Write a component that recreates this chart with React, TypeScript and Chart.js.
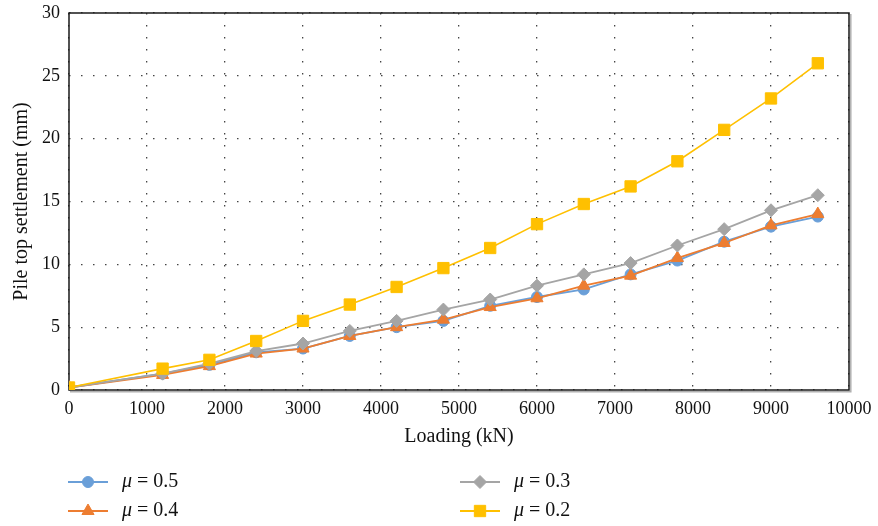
import React, { useEffect, useRef } from "react";
import { Chart, registerables } from "chart.js";

Chart.register(...registerables);

const loading = [0, 1200, 1800, 2400, 3000, 3600, 4200, 4800, 5400, 6000, 6600, 7200, 7800, 8400, 9000, 9600];
const mu05 = [0.2, 1.3, 2.0, 3.0, 3.3, 4.3, 5.0, 5.5, 6.7, 7.4, 8.0, 9.2, 10.3, 11.8, 13.0, 13.8];
const mu04 = [0.2, 1.2, 1.9, 2.9, 3.3, 4.3, 5.0, 5.6, 6.6, 7.3, 8.3, 9.1, 10.5, 11.7, 13.1, 14.0];
const mu03 = [0.2, 1.3, 2.1, 3.1, 3.7, 4.7, 5.5, 6.4, 7.2, 8.3, 9.2, 10.1, 11.5, 12.8, 14.3, 15.5];
const mu02 = [0.2, 1.7, 2.4, 3.9, 5.5, 6.8, 8.2, 9.7, 11.3, 13.2, 14.8, 16.2, 18.2, 20.7, 23.2, 26.0];
const seriesLabels = ["0.5", "0.4", "0.3", "0.2"];

const FONT = "'Liberation Serif', 'DejaVu Serif', serif";

const toPts = (ys: number[]) => loading.map((x, i) => ({ x, y: ys[i] }));

const framePlugin = {
  id: "frame",
  beforeDatasetsDraw(chart: any) {
    const { ctx, chartArea: a } = chart;
    ctx.save();
    ctx.strokeStyle = "#b0b0b0";
    ctx.lineWidth = 1.5;
    ctx.beginPath();
    ctx.moveTo(a.right + 1.8, a.top + 1);
    ctx.lineTo(a.right + 1.8, a.bottom + 1.8);
    ctx.lineTo(a.left + 1, a.bottom + 1.8);
    ctx.stroke();
    ctx.strokeStyle = "#1a1a1a";
    ctx.lineWidth = 1.5;
    ctx.strokeRect(a.left, a.top, a.right - a.left, a.bottom - a.top);
    ctx.restore();
  },
};

function drawMarker(ctx: CanvasRenderingContext2D, style: string, r: number, x: number, y: number) {
  ctx.beginPath();
  if (style === "circle") {
    ctx.arc(x, y, r, 0, Math.PI * 2);
  } else if (style === "rect") {
    const s = Math.SQRT1_2 * r;
    ctx.rect(x - s, y - s, 2 * s, 2 * s);
  } else if (style === "rectRot") {
    ctx.moveTo(x - r, y);
    ctx.lineTo(x, y - r);
    ctx.lineTo(x + r, y);
    ctx.lineTo(x, y + r);
    ctx.closePath();
  } else if (style === "triangle") {
    const edge = (3 * r) / Math.sqrt(3);
    const h = (edge * Math.sqrt(3)) / 2;
    ctx.moveTo(x - edge / 2, y + h / 3);
    ctx.lineTo(x + edge / 2, y + h / 3);
    ctx.lineTo(x, y - (2 * h) / 3);
    ctx.closePath();
  }
  ctx.fill();
  ctx.stroke();
}

const legendPlugin = {
  id: "customLegend",
  afterDraw(chart: any) {
    const { ctx } = chart;
    const pos = [
      { x: 68, y: 482 },
      { x: 68, y: 511 },
      { x: 460, y: 482 },
      { x: 460, y: 511 },
    ];
    chart.data.datasets.forEach((ds: any, i: number) => {
      const p = pos[i];
      ctx.save();
      ctx.strokeStyle = ds.borderColor;
      ctx.lineWidth = 2;
      ctx.beginPath();
      ctx.moveTo(p.x, p.y);
      ctx.lineTo(p.x + 40, p.y);
      ctx.stroke();
      ctx.fillStyle = ds.pointBackgroundColor;
      ctx.strokeStyle = ds.pointBackgroundColor;
      ctx.lineWidth = 1;
      drawMarker(ctx, ds.pointStyle, ds.pointRadius, p.x + 20, p.y);
      ctx.restore();
      ctx.save();
      ctx.fillStyle = "#111";
      ctx.textBaseline = "middle";
      ctx.font = `italic 20px ${FONT}`;
      const tx = p.x + 54;
      ctx.fillText("\u03bc", tx, p.y);
      const w = ctx.measureText("\u03bc").width;
      ctx.font = `20px ${FONT}`;
      ctx.fillText(` = ${seriesLabels[i]}`, tx + w, p.y);
      ctx.restore();
    });
  },
};

export default function App() {
  const ref = useRef<HTMLCanvasElement | null>(null);
  useEffect(() => {
    document.body.style.margin = "0";
    if (!ref.current) return;
    const mk = (label: string, data: number[], color: string, style: string, r: number, order: number, lw: number) => ({
      label,
      data: toPts(data),
      borderColor: color,
      backgroundColor: color,
      pointBackgroundColor: color,
      pointBorderColor: color,
      pointStyle: style,
      pointRadius: r,
      pointBorderWidth: 1,
      borderWidth: lw,
      order,
      tension: 0,
    });
    const chart = new Chart(ref.current, {
      type: "line",
      data: {
        datasets: [
          mk("μ = 0.5", mu05, "#6A9FD8", "circle", 5.5, 3, 1.8),
          mk("μ = 0.4", mu04, "#ED7D31", "triangle", 7, 2, 1.8),
          mk("μ = 0.3", mu03, "#A5A5A5", "rectRot", 6.5, 1, 1.8),
          mk("μ = 0.2", mu02, "#FFC000", "rect", 8, 0, 1.6),
        ] as any,
      },
      options: {
        animation: false,
        responsive: false,
        layout: { padding: { left: 0, right: 29, top: 13, bottom: 76 } },
        plugins: {
          legend: { display: false },
          tooltip: { enabled: false },
        },
        scales: {
          x: {
            type: "linear",
            min: 0,
            max: 10000,
            ticks: {
              stepSize: 1000,
              color: "#111",
              font: { family: FONT, size: 18 },
              padding: 8,
              maxRotation: 0,
              callback: (v: any) => String(v),
            },
            grid: { color: "#444", lineWidth: 1.3, drawTicks: false },
            border: { display: false, dash: [1.5, 10.5] },
            title: { display: true, text: "Loading (kN)", color: "#111", font: { family: FONT, size: 20 }, padding: { top: 0, bottom: 1 } },
            afterFit: (s: any) => { s.height = 60; s.paddingLeft = 0; s.paddingRight = 0; },
          },
          y: {
            min: 0,
            max: 30,
            ticks: { stepSize: 5, color: "#111", font: { family: FONT, size: 18 }, padding: 9 },
            grid: { color: "#444", lineWidth: 1.3, drawTicks: false },
            border: { display: false, dash: [1.5, 10.5] },
            title: { display: true, text: "Pile top settlement (mm)", color: "#111", font: { family: FONT, size: 20 }, padding: { top: 10, bottom: 0 } },
            afterFit: (s: any) => { s.width = 69; s.paddingTop = 0; s.paddingBottom = 0; },
          },
        },
      } as any,
      plugins: [framePlugin, legendPlugin],
    });
    return () => chart.destroy();
  }, []);
  return (
    <div style={{ width: 878, height: 526 }}>
      <canvas ref={ref} width={878} height={526} />
    </div>
  );
}
